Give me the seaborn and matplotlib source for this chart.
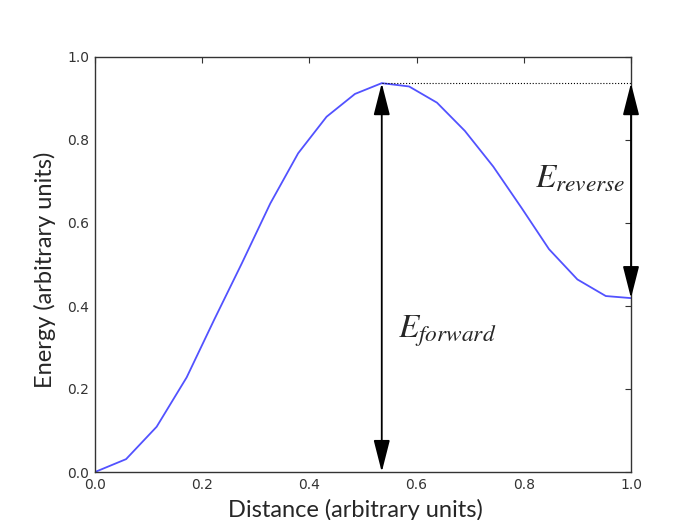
import matplotlib
matplotlib.use("Agg")
import matplotlib.pyplot as plt
import seaborn as sns
import pandas as pd
import numpy as np

distance = [0.0, 0.058, 0.115, 0.171, 0.222, 0.274, 0.327, 0.379, 0.432, 0.485,
            0.535, 0.586, 0.638, 0.690, 0.743, 0.796, 0.847, 0.900, 0.953, 1.0]
energy = [0.0, 0.031, 0.109, 0.228, 0.366, 0.503, 0.647, 0.768, 0.856, 0.911,
          0.937, 0.929, 0.890, 0.822, 0.736, 0.636, 0.537, 0.464, 0.424, 0.419]
xticks = [0.0, 0.2, 0.4, 0.6, 0.8, 1.0]
yticks = [0.0, 0.2, 0.4, 0.6, 0.8, 1.0]
label_forward = r"$E_{forward}$"
label_reverse = r"$E_{reverse}$"

sns.set_style("white")
plt.rcParams["mathtext.fontset"] = "stix"
plt.rcParams["font.family"] = ["DejaVu Sans"]

df = pd.DataFrame({"Distance": distance, "Energy": energy})

fig = plt.figure(figsize=(6.9, 5.2), dpi=100)
ax = fig.add_axes([95/690, 48/520, 536/690, 415/520])

sns.lineplot(data=df, x="Distance", y="Energy", ax=ax, color="#5252ff", lw=1.3)

ax.set_xlim(0, 1)
ax.set_ylim(0, 1)
ax.set_xticks(xticks)
ax.set_yticks(yticks)
ax.set_xticklabels([f"{t:.1f}" for t in xticks])
ax.set_yticklabels([f"{t:.1f}" for t in yticks])
ax.tick_params(direction="in", length=4, width=0.8, top=True, right=True,
               labelsize=10, labelcolor="#333333", color="#333333", pad=4)
for s in ax.spines.values():
    s.set_visible(True)
    s.set_color("#333333")
    s.set_linewidth(1.0)

ax.set_xlabel("Distance (arbitrary units)", fontsize=17, family="Lato", labelpad=4)
ax.set_ylabel("Energy (arbitrary units)", fontsize=17, family="Lato", labelpad=8)
ax.xaxis.set_label_coords(0.485, -0.065)
ax.yaxis.set_label_coords(-0.073, 0.487)

i_peak = int(np.argmax(energy))
xp, yp = distance[i_peak], energy[i_peak]
xe, ye = distance[-1], energy[-1]

ax.plot([xp, xe], [yp, yp], ls=":", lw=0.8, color="black")

arrow = dict(arrowstyle="<|-|>,head_length=1.1,head_width=0.28", color="black",
             lw=1.3, shrinkA=0, shrinkB=0, mutation_scale=18)
ax.annotate("", xy=(xp, yp), xytext=(xp, 0.0), arrowprops=arrow, annotation_clip=False)
ax.annotate("", xy=(xe, yp), xytext=(xe, ye), arrowprops=arrow, annotation_clip=False)

ax.text(xp + 0.03, 0.34, label_forward, fontsize=24, ha="left", va="center")
ax.text(xe - 0.01, 0.71, label_reverse, fontsize=24, ha="right", va="center")

fig.savefig("out.png", dpi=100)
